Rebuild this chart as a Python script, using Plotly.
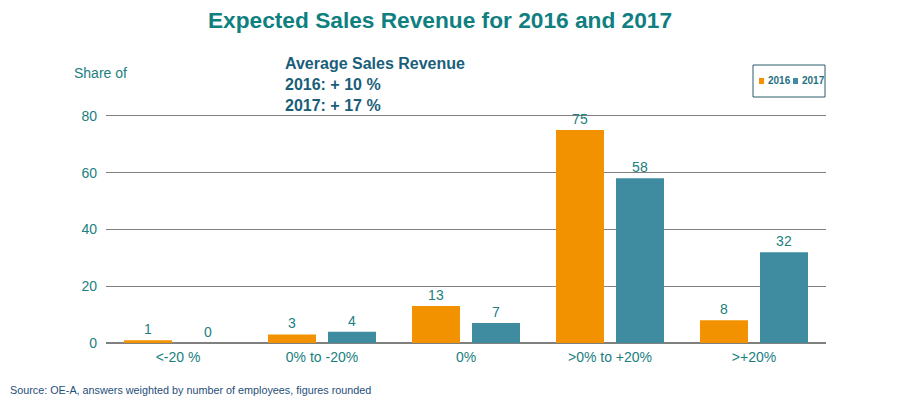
import plotly.graph_objects as go

categories = ["<-20 %", "0% to -20%", "0%", ">0% to +20%", ">+20%"]
values_2016 = [1, 3, 13, 75, 8]
values_2017 = [0, 4, 7, 58, 32]
series_names = ["2016", "2017"]

ORANGE = "#F39200"
TEAL = "#3F8CA1"
TXT = "#1A8080"
FONT = "Liberation Sans, Arial, sans-serif"

# plot-area geometry (pixels)
L, R, T, B = 106, 74, 113, 56
W, H = 900 - L - R, 399 - T - B

def px(x):
    return (x - L) / W

def py(y):
    return (399 - B - y) / H

fig = go.Figure()
for name, vals, col in [(series_names[0], values_2016, ORANGE), (series_names[1], values_2017, TEAL)]:
    fig.add_trace(go.Bar(
        x=categories, y=vals, name=name, marker_color=col,
        marker_line_width=0, showlegend=False,
        text=[str(v) for v in vals], textposition="outside",
        textfont=dict(size=14, color=TXT, family=FONT),
        cliponaxis=False,
    ))

fig.update_layout(
    width=900, height=399,
    margin=dict(l=L, r=R, t=T, b=B, autoexpand=False),
    paper_bgcolor="white", plot_bgcolor="white",
    barmode="group", bargap=0.1667, bargroupgap=0.2,
    font=dict(family=FONT, color=TXT),
    title=dict(text="<b>Expected Sales Revenue for 2016 and 2017</b>", x=440 / 900, xanchor="center",
               y=0.95, yanchor="middle", font=dict(size=22.7, color="#0F7F7F", family=FONT)),
    xaxis=dict(showgrid=False, showline=False, ticks="", tickfont=dict(size=14, color=TXT),
               automargin=False, ticklabelstandoff=4),
    yaxis=dict(range=[0, 81], tickvals=[0, 20, 40, 60, 80], showgrid=True, gridcolor="#808080",
               gridwidth=1, zeroline=True, zerolinecolor="#808080", zerolinewidth=1.5,
               tickfont=dict(size=14, color=TXT), ticklabelstandoff=8, automargin=False),
    showlegend=False,
)

# legend drawn as shapes + text
fig.add_shape(type="rect", xref="paper", yref="paper", x0=px(753), x1=px(825), y0=py(97), y1=py(65),
              line=dict(color="#2A5A6A", width=1), fillcolor="white")
for name, col, sx, tx in [(series_names[0], ORANGE, 759, 766), (series_names[1], TEAL, 793, 800)]:
    fig.add_shape(type="rect", xref="paper", yref="paper", x0=px(sx), x1=px(sx + 5), y0=py(84), y1=py(78),
                  line=dict(width=0), fillcolor=col)
    fig.add_annotation(text="<b>" + name + "</b>", xref="paper", yref="paper", x=px(tx), y=py(81),
                       xanchor="left", yanchor="middle", showarrow=False,
                       font=dict(size=10, color="#1F6F80", family=FONT))

fig.add_annotation(text="Share of", xref="paper", yref="paper", x=px(129), y=py(73), xanchor="right", yanchor="middle",
                   showarrow=False, font=dict(size=14, color=TXT, family=FONT))
fig.add_annotation(text="<b>Average Sales Revenue<br>2016: + 10 %<br>2017: + 17 %</b>", xref="paper", yref="paper",
                   x=px(283), y=py(53), xanchor="left", yanchor="top", align="left", showarrow=False,
                   font=dict(size=16, color="#1A5E7A", family=FONT))
fig.add_annotation(text="Source: OE-A, answers weighted by number of employees, figures rounded", xref="paper", yref="paper",
                   x=px(8), y=py(390), xanchor="left", yanchor="middle", showarrow=False,
                   font=dict(size=10.8, color="#1F4E79", family=FONT))

fig.write_html("out.html", config={"displayModeBar": False},
               post_script="document.body.style.margin='0px';")
